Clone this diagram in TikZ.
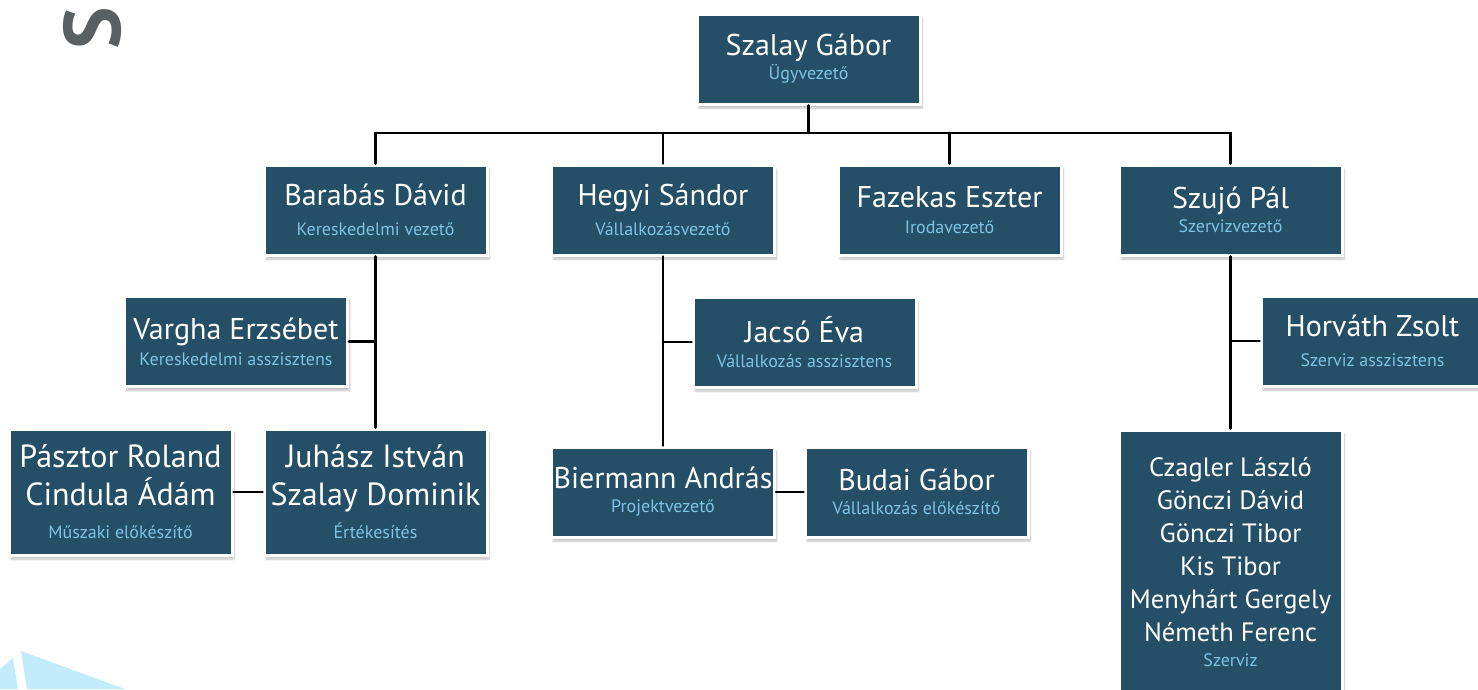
\documentclass[tikz,border=0pt]{standalone}
\usepackage{fontspec}
\setmainfont{PT Sans}
\usetikzlibrary{shadows.blur}
\definecolor{kek}{HTML}{244F66}
\definecolor{vilagos}{HTML}{7EC3E6}
\definecolor{szurke}{HTML}{5A5F61}
\definecolor{halvany}{HTML}{C2ECFB}
\newcommand{\nev}{\fontsize{30}{30}\selectfont}
\newcommand{\beo}[1]{{\color{vilagos}\fontsize{18}{18}\selectfont #1}}

\begin{document}
\begin{tikzpicture}[x=1pt,y=-1pt,line cap=round]
	\tikzstyle{doboz}=[fill=kek,draw=white,line width=3pt,text=white,align=center,
		minimum width=223pt,minimum height=90pt,inner sep=0pt,font=\nev,
		blur shadow={shadow xshift=2pt,shadow yshift=-4pt,shadow opacity=25,shadow blur steps=6}];
	\tikzstyle{vonal}=[line width=2.7pt];
	\useasboundingbox (0,0) rectangle (1478,689);
	%% background
	\node[text=szurke,font=\fontsize{80}{80}\selectfont\bfseries,rotate=90] (S) at (92,28) {S};
	\fill[halvany] (0,669) -- (13,658) -- (18,689) -- (0,689) -- cycle;
	\fill[halvany] (21,651) -- (125,689) -- (27,689) -- cycle;
	%% boxes
	\node[doboz] (SG) at (808.5,59)  {Szalay Gábor\\[-6pt]\beo{Ügyvezető}};
	\node[doboz] (BD) at (375.5,210) {Barabás Dávid\\\beo{Kereskedelmi vezető}};
	\node[doboz] (HS) at (663,210)   {Hegyi Sándor\\\beo{Vállalkozásvezető}};
	\node[doboz] (FE) at (949.5,210) {Fazekas Eszter\\[-4pt]\beo{Irodavezető}};
	\node[doboz] (SP) at (1230.5,210) {Szujó Pál\\[-6pt]\beo{Szervizvezető}};
	\node[doboz] (VE) at (236,341.5) {Vargha Erzsébet\\[-4pt]\beo{Kereskedelmi asszisztens}};
	\node[doboz] (JE) at (804.5,342) {Jacsó Éva\\[-5pt]\beo{Vállalkozás asszisztens}};
	\node[doboz] (HZ) at (1372.5,341) {Horváth Zsolt\\\beo{Szerviz asszisztens}};
	\node[doboz,minimum height=126pt,font=\fontsize{32}{32}\selectfont] (PR) at (120.5,492)
		{Pásztor Roland\\[6pt]Cindula Ádám\\[1pt]\beo{Műszaki előkészítő}};
	\node[doboz,minimum height=126pt,font=\fontsize{32}{32}\selectfont] (JI) at (375.5,492)
		{Juhász István\\[6pt]Szalay Dominik\\[1pt]\beo{Értékesítés}};
	\node[doboz] (BA) at (663,492)   {Biermann András\\[-6pt]\beo{Projektvezető}};
	\node[doboz] (BG) at (916.5,492) {Budai Gábor\\[-6pt]\beo{Vállalkozás előkészítő}};
	\node[doboz,minimum height=265pt,font=\fontsize{26.5}{33}\selectfont] (CL) at (1230.5,562.5)
		{Czagler László\\Gönczi Dávid\\Gönczi Tibor\\Kis Tibor\\Menyhárt Gergely\\Németh Ferenc\\[-8pt]\beo{Szerviz}};
	%% connections
	\coordinate (sin) at (808.5,133);
	\draw[vonal] (SG) -- (sin);
	\draw[vonal] (BD.north) |- (sin) -| (SP.north);
	\draw[vonal] (HS.north) -- (HS.north |- sin);
	\draw[vonal] (FE.north) -- (FE.north |- sin);
	\draw[vonal] (BD) -- (JI);
	\draw[vonal] (VE) -- (VE -| BD);
	\draw[vonal] (PR) -- (JI);
	\draw[vonal] (HS) -- (BA);
	\draw[vonal] (JE) -- (JE -| HS);
	\draw[vonal] (BA) -- (BG);
	\draw[vonal] (SP) -- (CL);
	\draw[vonal] (HZ) -- (HZ -| SP);
\end{tikzpicture}
\end{document}
